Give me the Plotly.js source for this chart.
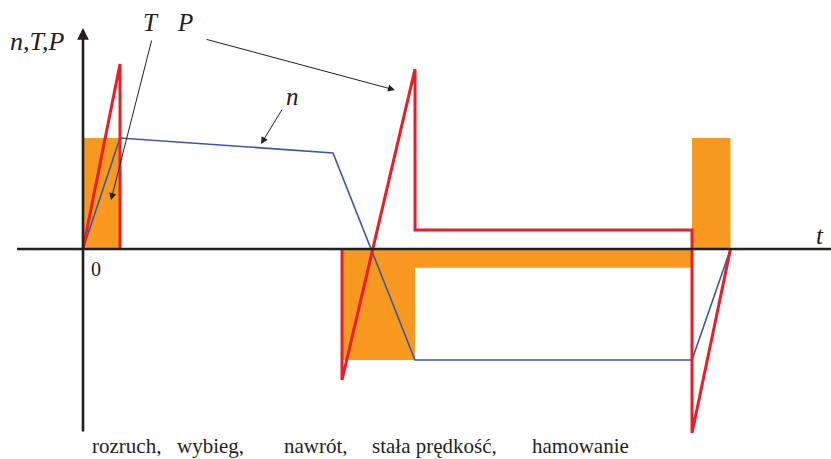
<!DOCTYPE html>
<html>
<head>
<meta charset="utf-8">
<script src="https://cdn.plot.ly/plotly-3.0.1.min.js"></script>
<style>
  html, body { margin: 0; padding: 0; background: #ffffff; }
  #chart { width: 831px; height: 459px; }
</style>
</head>
<body>
<div id="chart"></div>
<script>
// Drive cycle: start-up, coasting, reversal, constant speed, braking.
// Time in arbitrary units, quantities normalised to the rated speed.

// Speed n(t)
const nTime = [0, 3.7, 25.0, 33.2, 60.9, 64.75];
const nValue = [0, 1.0, 0.865, -1.0, -1.0, 0];

// Torque T(t): piecewise constant, each value holds until the next time
const tTime = [0, 3.7, 25.9, 33.2, 60.9, 64.75];
const tValue = [1.0, 0, -1.0, -0.17, 1.0, 0];

// Power P(t): null breaks the line while the drive coasts
const pTime = [0, 3.7, 3.7, null, 25.9, 25.9, 33.2, 33.2, 60.9, 60.9, 64.75];
const pValue = [0, 1.667, 0, null, 0, -1.18, 1.62, 0.171, 0.171, -1.658, 0];

// Phase names written under the time axis
const phaseNames = ['rozruch,', 'wybieg,', 'nawrót,', 'stała prędkość,', 'hamowanie'];
const phaseStart = [0.7, 9.2, 19.9, 28.7, 44.7];

const ORANGE = '#F7991F';
const RED = '#EE1C25';
const BLUE = '#3A56A8';
const INK = '#231F20';
const SERIF = 'Times New Roman, Liberation Serif, DejaVu Serif, serif';

const traces = [
  {
    x: tTime, y: tValue, type: 'scatter', mode: 'lines',
    line: { shape: 'hv', width: 0, color: ORANGE },
    fill: 'tozeroy', fillcolor: ORANGE,
    hoverinfo: 'skip', name: 'T'
  },
  {
    x: nTime, y: nValue, type: 'scatter', mode: 'lines',
    line: { color: BLUE, width: 1.6 },
    name: 'n'
  },
  {
    x: pTime, y: pValue, type: 'scatter', mode: 'lines',
    line: { color: RED, width: 3 },
    connectgaps: false, name: 'P'
  }
];

function label(text, x, y, size, italic, extra) {
  return Object.assign({
    text: text,
    x: x, y: y, xref: 'x', yref: 'y',
    showarrow: false,
    font: { family: SERIF, size: size, color: INK, style: italic ? 'italic' : 'normal' },
    xanchor: 'center', yanchor: 'middle'
  }, extra || {});
}

function pointer(fromX, fromY, toX, toY) {
  return {
    text: '', x: toX, y: toY, ax: fromX, ay: fromY,
    xref: 'x', yref: 'y', axref: 'x', ayref: 'y',
    showarrow: true, arrowhead: 2, arrowsize: 1.4, arrowwidth: 1,
    arrowcolor: INK
  };
}

const annotations = [
  // vertical axis with arrow tip
  {
    text: '', x: 0, y: 1.99, ax: 0, ay: -1.658,
    xref: 'x', yref: 'y', axref: 'x', ayref: 'y',
    showarrow: true, arrowhead: 2, arrowsize: 0.9, arrowwidth: 2.6,
    arrowcolor: INK
  },
  label('n,T,P', -4.6, 1.87, 26, true),
  label('T', 6.8, 2.045, 25, true),
  label('P', 10.2, 2.045, 25, true),
  label('n', 20.9, 1.37, 25, true),
  label('t', 73.7, 0.12, 25, true),
  label('0', 1.3, -0.18, 20, false),
  pointer(6.9, 1.892, 2.8, 0.441),
  pointer(12.2, 1.892, 31.2, 1.432),
  pointer(20.0, 1.270, 17.8, 0.946)
];

phaseNames.forEach(function (name, i) {
  annotations.push(label(name, phaseStart[i], -1.772, 21, false, { xanchor: 'left' }));
});

const layout = {
  width: 831, height: 459,
  margin: { l: 0, r: 0, t: 0, b: 0, pad: 0 },
  paper_bgcolor: '#ffffff', plot_bgcolor: '#ffffff',
  showlegend: false,
  xaxis: {
    range: [-8.3, 74.8], visible: false, fixedrange: true
  },
  yaxis: {
    range: [-1.8919, 2.2432], visible: false, fixedrange: true
  },
  shapes: [
    {
      type: 'line', xref: 'x', yref: 'y', layer: 'above',
      x0: -6.6, x1: 74.8, y0: 0, y1: 0,
      line: { color: INK, width: 2.6 }
    }
  ],
  annotations: annotations
};

Plotly.newPlot('chart', traces, layout, { displayModeBar: false, staticPlot: true });
</script>
</body>
</html>
